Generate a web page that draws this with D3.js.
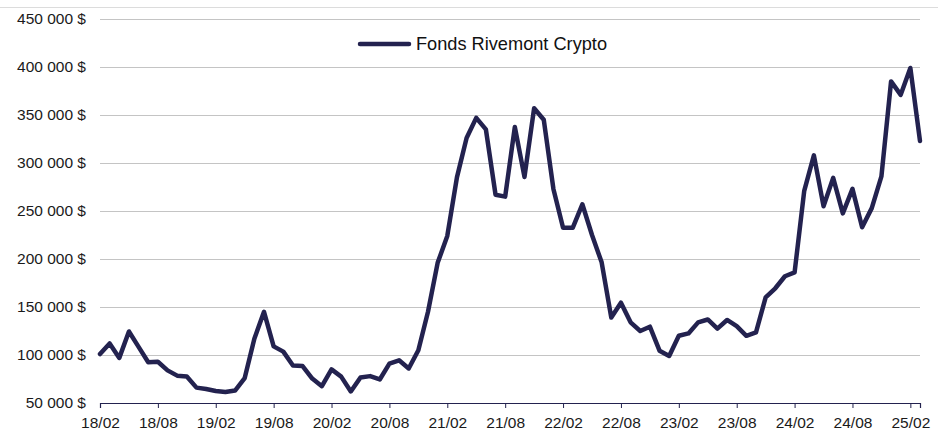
<!DOCTYPE html>
<html>
<head>
<meta charset="utf-8">
<script src="https://cdn.jsdelivr.net/npm/d3@7"></script>
<style>
  html, body { margin: 0; padding: 0; background: #fff; }
  #chart { width: 946px; height: 432px; overflow: hidden; }
  text { font-family: "Liberation Sans", Arial, sans-serif; }
</style>
</head>
<body>
<div id="chart"></div>
<script>
// monthly fund value, from 2018-02 to 2025-03
const startMonth = new Date(2018, 1, 1);
const fundValues = [
  101000, 112000, 97000, 124500, 108500, 92500, 93000, 84000, 78500, 77500,
  66000, 64500, 62500, 61500, 63000, 76000, 117000, 145000, 109000, 103500,
  89000, 88500, 75500, 67500, 85000, 77500, 62000, 76500, 78000, 74500,
  91000, 94500, 86000, 105000, 145000, 196000, 224000, 285000, 326000, 347000,
  335000, 267000, 265000, 337500, 285500, 357000, 345000, 273000, 232500, 232500,
  257000, 225000, 196500, 139000, 154500, 134000, 125000, 129500, 104500, 99000,
  120000, 122500, 134000, 137000, 127500, 136500, 130000, 120000, 123500, 160000,
  169500, 182000, 186000, 271000, 308000, 255000, 284500, 247500, 273000, 233000,
  253000, 286000, 385000, 371000, 399000, 323000
];
const xTickLabels = ["18/02", "18/08", "19/02", "19/08", "20/02", "20/08", "21/02",
  "21/08", "22/02", "22/08", "23/02", "23/08", "24/02", "24/08", "25/02"];
const yTicks = [50000, 100000, 150000, 200000, 250000, 300000, 350000, 400000, 450000];
const seriesName = "Fonds Rivemont Crypto";

const W = 946, H = 432;
const navy = "#23224f";

const fmtMonth = d3.timeFormat("%y/%m");
const months = fundValues.map((v, i) => fmtMonth(d3.timeMonth.offset(startMonth, i)));

const fr = d3.formatLocale({ decimal: ",", thousands: " ", grouping: [3], currency: ["", " $"] });
const fmtMoney = fr.format("$,");

const svg = d3.select("#chart")
  .append("svg")
  .attr("width", W)
  .attr("height", H)
  .attr("viewBox", `0 0 ${W} ${H}`);

const x = d3.scalePoint().domain(months).range([100, 920]);
const y = d3.scaleLinear().domain([50000, 450000]).range([403, 19]);

// frame line at the top
svg.append("line")
  .attr("x1", 0).attr("x2", 938)
  .attr("y1", 7.5).attr("y2", 7.5)
  .attr("stroke", "#dcdcdc");

// gridlines
svg.append("g")
  .selectAll("line")
  .data(yTicks.filter(d => d > 50000))
  .enter()
  .append("line")
  .attr("x1", 100).attr("x2", 920)
  .attr("y1", d => Math.round(y(d)) + 0.5)
  .attr("y2", d => Math.round(y(d)) + 0.5)
  .attr("stroke", "#c4c4c4")
  .attr("stroke-width", 1);

// y labels
svg.append("g")
  .selectAll("text")
  .data(yTicks)
  .enter()
  .append("text")
  .attr("x", 86)
  .attr("y", d => y(d))
  .attr("dy", "0.35em")
  .attr("text-anchor", "end")
  .attr("font-size", 15.5)
  .attr("fill", "#1a1a1a")
  .text(d => fmtMoney(d));

// x axis
const xAxis = svg.append("g")
  .attr("transform", "translate(0,403)")
  .call(d3.axisBottom(x).tickValues(xTickLabels).tickSize(5).tickPadding(9));
xAxis.select(".domain").attr("stroke", navy).attr("stroke-width", 1.2);
xAxis.selectAll(".tick line").attr("stroke", navy);
xAxis.selectAll(".tick text")
  .attr("font-size", 15.5)
  .attr("font-family", "Liberation Sans, Arial, sans-serif")
  .attr("fill", "#1a1a1a");

// series line
const line = d3.line()
  .x((d, i) => x(months[i]))
  .y(d => y(d));

svg.append("path")
  .datum(fundValues)
  .attr("fill", "none")
  .attr("stroke", navy)
  .attr("stroke-width", 4.5)
  .attr("stroke-linejoin", "round")
  .attr("stroke-linecap", "round")
  .attr("d", line);

// legend
const legend = svg.append("g");
legend.append("line")
  .attr("x1", 360).attr("x2", 409)
  .attr("y1", 44).attr("y2", 44)
  .attr("stroke", navy)
  .attr("stroke-width", 4.5)
  .attr("stroke-linecap", "round");
legend.append("text")
  .attr("x", 416)
  .attr("y", 50)
  .attr("font-size", 18.2)
  .attr("fill", "#111")
  .text(seriesName);
</script>
</body>
</html>
